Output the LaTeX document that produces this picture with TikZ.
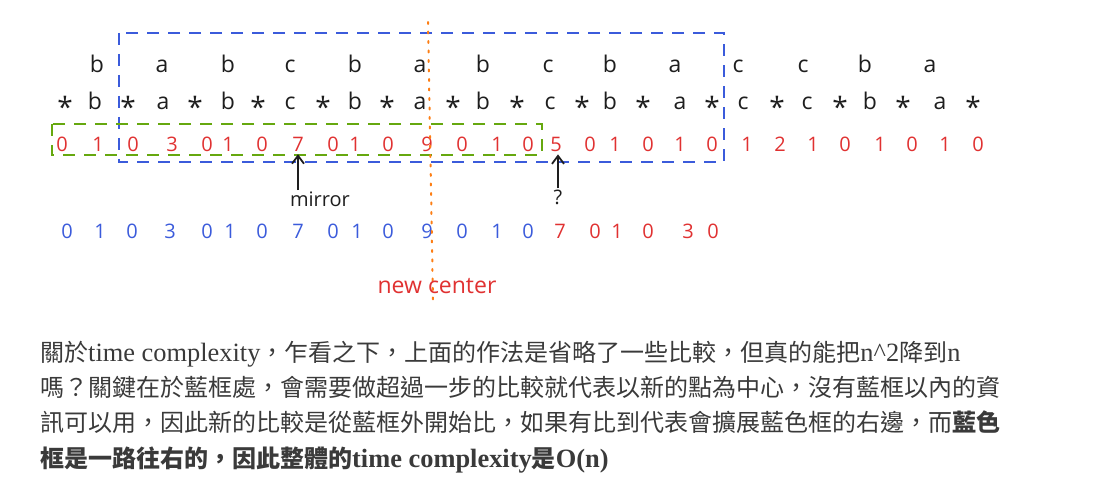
\documentclass[tikz,border=0pt]{standalone}
\usepackage{fontspec}
\setmainfont{Liberation Serif}[Scale=1.1]
\newfontfamily\zhfont{Noto Sans CJK TC}
\newfontfamily\handfont{Open Sans}
\usetikzlibrary{arrows.meta}
\definecolor{ink}{HTML}{1E1E1E}
\definecolor{accentBlue}{HTML}{3B5BDB}
\definecolor{accentRed}{HTML}{E03131}
\definecolor{accentGreen}{HTML}{66A80F}
\definecolor{accentOrange}{HTML}{FD7E14}
\definecolor{muted}{HTML}{3A3A3A}
\newcommand{\zh}[1]{{\zhfont #1}}

\begin{document}
\begin{tikzpicture}[x=1pt, y=-1pt,
  hand/.style={font=\handfont\fontsize{23}{23}\selectfont, text=ink, anchor=base, inner sep=2pt},
  star/.style={hand, font=\handfont\fontsize{28}{28}\selectfont, yshift=-8pt},
  digit/.style={font=\handfont\fontsize{20}{20}\selectfont, anchor=base, inner sep=2pt},
  dashbox/.style={line width=2.3pt, dash pattern=on 12pt off 9pt},
  arr/.style={draw=ink, line width=1.8pt, -{Straight Barb[length=8pt,width=12pt]}},
  para/.style={font=\fontsize{24}{24}\selectfont, text=muted, anchor=base west, inner sep=0pt}]
  \useasboundingbox (0,0) rectangle (1111,481);

  \foreach \x/\c [count=\i] in {97/b,162/a,228/b,290/c,355/b,420/a,483/b,548/c,
      610/b,675/a,738/c,803/c,865/b,930/a}
    \node[hand] (top\i) at (\x,73) {\c};
  \foreach \x/\c [count=\i] in {95/b,163/a,228/b,290/c,355/b,420/a,483/b,550/c,
      610/b,680/a,743/c,807/c,870/b,940/a}
    \node[hand] (let\i) at (\x,110) {\c};
  \foreach \x [count=\i] in {65,128,195,258,323,387,453,517,582,643,712,777,840,903,973}
    \node[star] (sep\i) at (\x,110) {*};

  \foreach \x/\v [count=\i] in {62/0,98/1,133/0,172/3,207/0,228/1,262/0,298/7,333/0,355/1,
      388/0,427/9,462/0,497/1,528/0,556/5,590/0,615/1,648/0,680/1,712/0,747/1,780/2,
      813/1,845/0,880/1,912/0,945/1,978/0}
    \node[digit, text=accentRed] (rad\i) at (\x,152) {\v};

  \foreach \x/\v [count=\i] in {67/0,100/1,132/0,170/3,207/0,230/1,262/0,298/7,333/0,357/1,
      388/0,427/9,462/0,497/1,528/0}
    \node[digit, text=accentBlue] (ans\i) at (\x,238) {\v};
  \foreach \x/\v [count=\i] in {560/7,595/0,617/1,648/0,688/3,713/0}
    \node[digit, text=accentRed] (new\i) at (\x,238) {\v};

  \draw[dashbox, accentBlue] (119,33) rectangle (724,162);
  \draw[dashbox, accentGreen] (52,124) rectangle (542,155);
  \draw[accentOrange, line width=2pt, line cap=round, dash pattern=on 2pt off 7.5pt]
    (428,22) -- (433,300);

  \node[digit, text=ink] (mirror) at (320,207) {mirror};
  \node[digit, text=ink] (ask) at (558,205) {?};
  \draw[arr] (mirror.north -| rad8) -- (rad8.south);
  \draw[arr] (ask.north) -- (ask.north |- rad16.south);
  \node[digit, text=accentRed, font=\handfont\fontsize{23}{23}\selectfont] (center) at (437,293) {new center};

  \node[para] (line1) at (40,361)
    {\zh{關於}time complexity\zh{，乍看之下，上面的作法是省略了一些比較，但真的能把}n\textasciicircum 2\zh{降到}n};
  \node[para] (line2) at (40,396)
    {\zh{嗎？關鍵在於藍框處，會需要做超過一步的比較就代表以新的點為中心，沒有藍框以內的資}};
  \node[para] (line3) at (40,431.5)
    {\zh{訊可以用，因此新的比較是從藍框外開始比，如果有比到代表會擴展藍色框的右邊，而}{\bfseries\zh{藍色}}};
  \node[para, font=\fontsize{24}{24}\selectfont\bfseries] (line4) at (40,467)
    {\zh{框是一路往右的，因此整體的}time complexity\zh{是}O(n)};
\end{tikzpicture}
\end{document}
